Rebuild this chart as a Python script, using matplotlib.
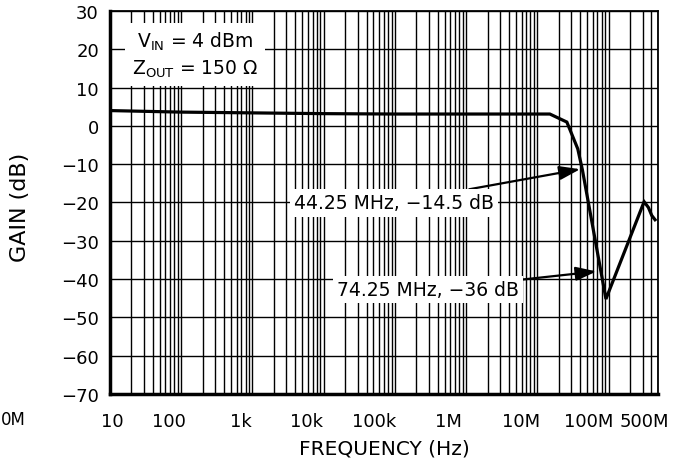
import numpy as np
import matplotlib.pyplot as plt
from matplotlib.transforms import ScaledTranslation

# gain curve
freq = [10, 100, 1e3, 1e4, 1e5, 1e6, 1e7, 1.5e7, 2.6e7, 3.7e7, 4.3e7, 9.2e7, 3.16e8, 3.63e8, 4.05e8, 4.5e8]
gain = [4.0, 3.6, 3.4, 3.2, 3.1, 3.1, 3.1, 3.1, 1.0, -6.0, -11.5, -45.2, -19.8, -21.3, -23.4, -24.5]

xticks = [10, 100, 1e3, 1e4, 1e5, 1e6, 1e7, 1e8, 5e8]
xticklabels = ['10', '100', '1k', '10k', '100k', '1M', '10M', '100M', '500M']
yticks = list(range(-70, 31, 10))

# annotations: (text, point on curve, text centre)
notes = [('44.25 MHz, \u221214.5 dB', (4.0e7, -11.3), (9.7e4, -20.1)),
         ('74.25 MHz, \u221236 dB', (6.8e7, -38.0), (2.92e5, -42.8))]

fig = plt.figure(figsize=(6.82, 4.64), dpi=100)
ax = fig.add_axes([110/682, 69/464, 548.3/682, 383/464])

ax.plot(freq, gain, color='black', lw=2.3, solid_joinstyle='miter')
ax.set_xscale('log')
ax.set_xlim(10, 5e8)
ax.set_ylim(-70, 30)

ax.set_xticks(xticks)
ax.set_xticklabels(xticklabels)
ax.set_yticks(yticks)
ax.set_yticklabels([str(v).replace('-', '\u2212') for v in yticks])
ax.tick_params(which='both', length=0, labelsize=13)
ax.tick_params(axis='x', pad=13)
ax.tick_params(axis='y', pad=8)

ax.grid(which='major', color='black', lw=1.0)
ax.grid(which='minor', axis='x', color='black', lw=1.0)

for s in ['left', 'bottom']:
    ax.spines[s].set_linewidth(2.5)
for s in ['top', 'right']:
    ax.spines[s].set_linewidth(1.3)

# labels in the picture sit a little left of their ticks
shift_px = [2, -12, -12, -17, -21, -18, -16, -20, -14]
for lab, dx in zip(ax.get_xticklabels(), shift_px):
    lab.set_transform(lab.get_transform() + ScaledTranslation(dx/100, 0, fig.dpi_scale_trans))

ax.set_xlabel('FREQUENCY (Hz)', fontsize=14.5, labelpad=6)
ax.set_ylabel('GAIN (dB)', fontsize=16)
ax.yaxis.set_label_coords(-0.146, 0.49)

ax.text(0.155, 0.886, 'V$_{\\mathrm{IN}}$ = 4 dBm\nZ$_{\\mathrm{OUT}}$ = 150 \u03a9',
        transform=ax.transAxes, ha='center', va='center', fontsize=13.5,
        linespacing=1.35, bbox=dict(facecolor='white', edgecolor='none', pad=5))

for txt, xy, xyt in notes:
    ax.annotate(txt, xy=xy, xytext=xyt, ha='center', va='center', fontsize=13.5,
                bbox=dict(facecolor='white', edgecolor='none', pad=3),
                arrowprops=dict(arrowstyle='-|>,head_length=0.9,head_width=0.3',
                                color='black', lw=1.6,
                                shrinkA=0, shrinkB=0, mutation_scale=14))

fig.text(1/682, 1 - 420/464, '0M', ha='left', va='center', fontsize=12)

fig.savefig('out.png', dpi=100)
